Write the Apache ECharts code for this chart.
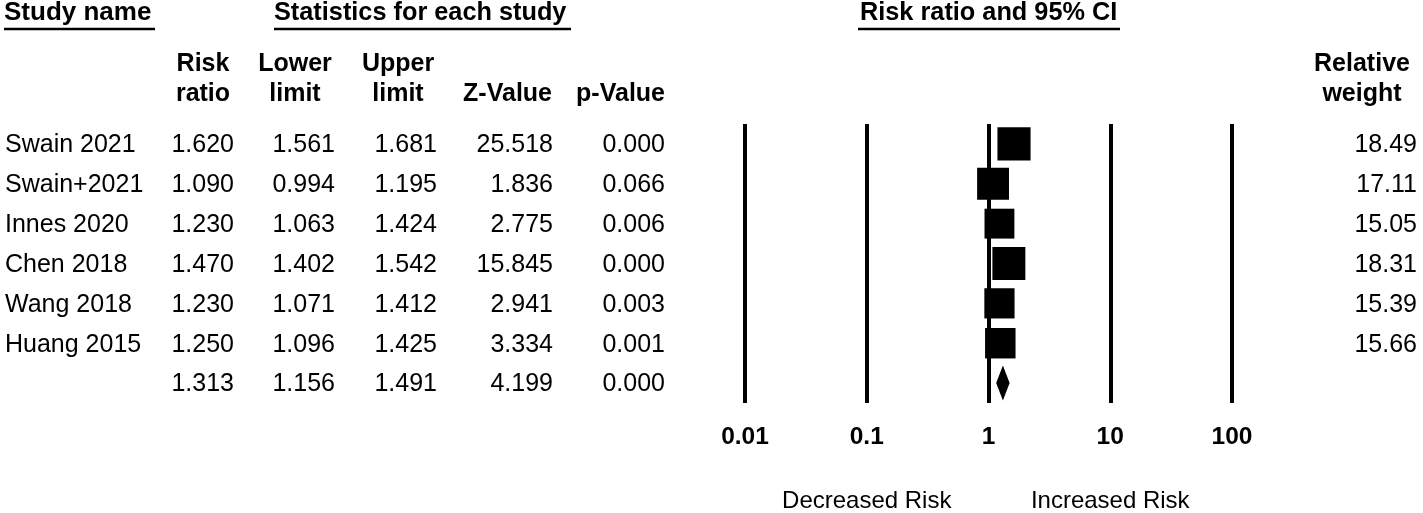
<!DOCTYPE html>
<html>
<head>
<meta charset="utf-8">
<script src="https://cdn.jsdelivr.net/npm/echarts@6/dist/echarts.min.js"></script>
<style>
html,body{margin:0;padding:0;background:#fff;}
#main{width:1423px;height:513px;}
</style>
</head>
<body>
<div id="main"></div>
<script>
// ---- data ----
const rowKeys = ['Swain 2021','Swain+2021','Innes 2020','Chen 2018','Wang 2018','Huang 2015','Summary'];
const studyNames = ['Swain 2021','Swain+2021','Innes 2020','Chen 2018','Wang 2018','Huang 2015',''];
const riskRatio = [1.620,1.090,1.230,1.470,1.230,1.250,1.313];
const lowerLimit = [1.561,0.994,1.063,1.402,1.071,1.096,1.156];
const upperLimit = [1.681,1.195,1.424,1.542,1.412,1.425,1.491];
const zValue = [25.518,1.836,2.775,15.845,2.941,3.334,4.199];
const pValue = [0.000,0.066,0.006,0.000,0.003,0.001,0.000];
const relWeight = [18.49,17.11,15.05,18.31,15.39,15.66];
const tickValues = [0.01,0.1,1,10,100];
const tickLabels = ['0.01','0.1','1','10','100'];
const titles = ['Study name','Statistics for each study','Risk ratio and 95% CI'];
const headers = [['Risk','ratio'],['Lower','limit'],['Upper','limit'],['','Z-Value'],['','p-Value'],['Relative','weight']];
const directionLabels = ['Decreased Risk','Increased Risk'];

// ---- chart ----
const FONT = '"Liberation Sans", Arial, Helvetica, sans-serif';
const chart = echarts.init(document.getElementById('main'), null, {renderer:'canvas'});
const nStudies = relWeight.length;
const summaryIdx = rowKeys.length - 1;

const option = {
  backgroundColor:'#fff',
  animation:false,
  grid:{left:745, right:191, top:124, bottom:110, containLabel:false},
  xAxis:{
    type:'log', logBase:10, min:0.01, max:100, splitNumber:4,
    axisLine:{show:false}, axisTick:{show:false},
    splitLine:{show:true, showMinLine:true, showMaxLine:true, lineStyle:{color:'#000', width:4}},
    axisLabel:{
      show:true, margin:22, fontSize:24.5, fontWeight:'bold', color:'#000', fontFamily:FONT,
      formatter:function(v){
        const k = Math.round(Math.log10(v)) + 2;
        return tickLabels[k] !== undefined ? tickLabels[k] : '';
      }
    }
  },
  yAxis:{
    type:'category', data:rowKeys, inverse:true,
    axisLine:{show:false}, axisTick:{show:false}, axisLabel:{show:false}, splitLine:{show:false}
  },
  series:[
    {
      type:'custom', name:'ci',
      data: rowKeys.slice(0,nStudies).map((k,i)=>[lowerLimit[i], upperLimit[i], i]),
      encode:{x:[0,1], y:2},
      renderItem:function(params, api){
        const a = api.coord([api.value(0), api.value(2)]);
        const b = api.coord([api.value(1), api.value(2)]);
        return {type:'line', shape:{x1:a[0], y1:a[1], x2:b[0], y2:b[1]}, style:{stroke:'#000', lineWidth:2}};
      },
      z:2
    },
    {
      type:'scatter', name:'studies', symbol:'rect',
      data: rowKeys.slice(0,nStudies).map((k,i)=>[riskRatio[i], i, relWeight[i]]),
      symbolSize:function(v){ return Math.sqrt(v[2])*7.7; },
      itemStyle:{color:'#000', opacity:1},
      z:3
    },
    {
      type:'custom', name:'summary',
      data:[[lowerLimit[summaryIdx], riskRatio[summaryIdx], upperLimit[summaryIdx], summaryIdx]],
      encode:{x:[0,1,2], y:3},
      renderItem:function(params, api){
        const idx = api.value(3);
        const lo = api.coord([api.value(0), idx]);
        const mid = api.coord([api.value(1), idx]);
        const hi = api.coord([api.value(2), idx]);
        const h = 17.5;
        return {type:'polygon', shape:{points:[[lo[0],lo[1]],[mid[0],mid[1]-h],[hi[0],hi[1]],[mid[0],mid[1]+h]]}, style:{fill:'#000'}};
      },
      z:3
    }
  ]
};
chart.setOption(option);

// ---- table text ----
function txt(s, x, y, align, size, bold){
  return {type:'text', x:x, y:y, silent:true, z:10,
    style:{text:s, fill:'#000', font:(bold?'bold ':'')+size+'px '+FONT,
      align:align, verticalAlign:'middle', textAlign:align, textVerticalAlign:'middle'}};
}
const g = [];
const rowY = rowKeys.map((k,i)=>chart.convertToPixel({yAxisIndex:0}, k) + 1.5);

// titles
const titleX = [4, 274, 860];
const titleSize = [26, 25.3, 25.3];
const underline = [[4,155],[274,571],[858,1120]];
titles.forEach((t,i)=>{
  g.push(txt(t, titleX[i], 13, 'left', titleSize[i], true));
  g.push({type:'line', silent:true, z:10, shape:{x1:underline[i][0], y1:29, x2:underline[i][1], y2:29}, style:{stroke:'#000', lineWidth:2.5}});
});

// column headers
const headerX = [203, 295, 398, 552, 665, 1362];
const headerAlign = ['center','center','center','right','right','center'];
headers.forEach((h,i)=>{
  if(h[0]) g.push(txt(h[0], headerX[i], 64.5, headerAlign[i], 25, true));
  if(h[1]) g.push(txt(h[1], headerX[i], 94.5, headerAlign[i], 25, true));
});

// body
const colRight = [234, 335, 437, 553, 665];
rowKeys.forEach((k,i)=>{
  const y = rowY[i];
  if(studyNames[i]) g.push(txt(studyNames[i], 5, y, 'left', 25, false));
  const vals = [riskRatio[i].toFixed(3), lowerLimit[i].toFixed(3), upperLimit[i].toFixed(3), zValue[i].toFixed(3), pValue[i].toFixed(3)];
  vals.forEach((v,j)=>g.push(txt(v, colRight[j], y, 'right', 25, false)));
  if(i < nStudies) g.push(txt(relWeight[i].toFixed(2), 1417, y, 'right', 25, false));
});

// direction labels under the axis
const dirX = [chart.convertToPixel({xAxisIndex:0}, 0.1), chart.convertToPixel({xAxisIndex:0}, 10)];
directionLabels.forEach((t,i)=>g.push(txt(t, dirX[i], 501, 'center', 24, false)));

chart.setOption({graphic:{elements:g}});
</script>
</body>
</html>
